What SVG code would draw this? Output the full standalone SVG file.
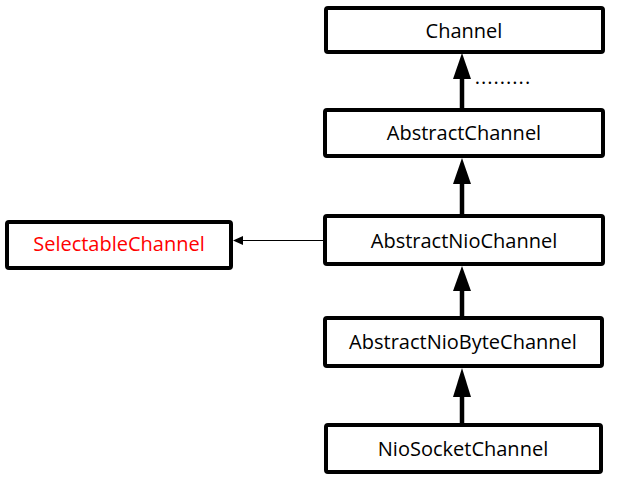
<svg xmlns="http://www.w3.org/2000/svg" width="636" height="480" viewBox="0 0 636 480">
<style>
.box{fill:#fff;stroke:#000;stroke-width:4;}
.t{font-family:"Open Sans","Noto Sans",sans-serif;font-size:20px;text-anchor:middle;dominant-baseline:central;fill:#000;}
.red{fill:#ff0000;}
.thick{stroke:#000;stroke-width:4.5;fill:none;}
.thin{stroke:#000;stroke-width:1.2;fill:none;}
</style>
<rect width="636" height="480" fill="#fff"/>
<g id="connectors">
<line class="thick" x1="462" y1="108" x2="462" y2="78"/>
<path d="M462,53 L453,79 L471,79 Z" fill="#000"/>
<line class="thick" x1="462" y1="215" x2="462" y2="183"/>
<path d="M462,158 L453,184 L471,184 Z" fill="#000"/>
<line class="thick" x1="462" y1="317" x2="462" y2="290"/>
<path d="M462,266 L453,291 L471,291 Z" fill="#000"/>
<line class="thick" x1="462" y1="424" x2="462" y2="396"/>
<path d="M462,368 L453,397 L471,397 Z" fill="#000"/>
<line class="thin" x1="325" y1="240.5" x2="240" y2="240.5"/>
<path d="M233,240.5 L243,236 L243,245 Z" fill="#000"/>
</g>
<text class="t" x="503" y="76" style="letter-spacing:1px">.........</text>
<g id="channel">
<rect class="box" x="326" y="8" width="277" height="44" rx="2"/>
<text class="t" x="464" y="30">Channel</text>
</g>
<g id="abstractchannel">
<rect class="box" x="325" y="110" width="278" height="46" rx="2"/>
<text class="t" x="464" y="132">AbstractChannel</text>
</g>
<g id="abstractniochannel">
<rect class="box" x="325" y="216" width="278" height="48" rx="2"/>
<text class="t" x="464" y="240">AbstractNioChannel</text>
</g>
<g id="selectablechannel">
<rect class="box" x="7" y="222" width="224" height="46" rx="2"/>
<text class="t red" x="119" y="243">SelectableChannel</text>
</g>
<g id="abstractniobytechannel">
<rect class="box" x="325" y="318" width="277" height="48" rx="2"/>
<text class="t" x="463" y="341">AbstractNioByteChannel</text>
</g>
<g id="niosocketchannel">
<rect class="box" x="326" y="425" width="275" height="47" rx="2"/>
<text class="t" x="463" y="448">NioSocketChannel</text>
</g>
</svg>
